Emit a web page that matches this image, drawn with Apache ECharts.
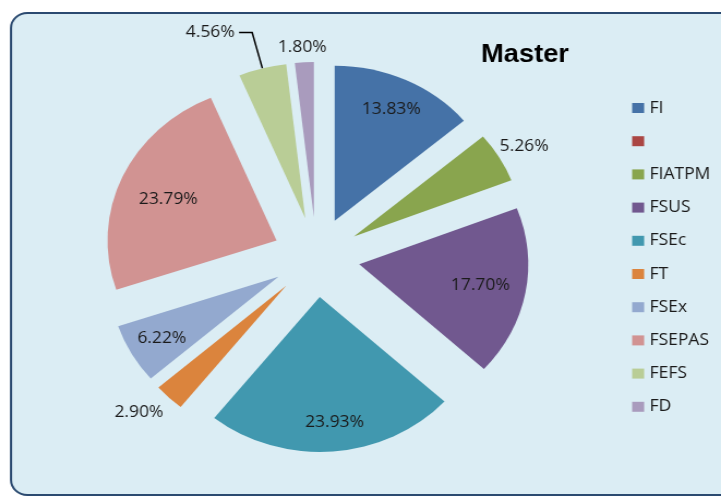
<!DOCTYPE html>
<html>
<head>
<meta charset="utf-8">
<script src="https://cdn.jsdelivr.net/npm/echarts@6/dist/echarts.min.js"></script>
<style>
html,body{margin:0;padding:0;background:#ffffff;overflow:hidden;width:721px;height:496px;}
/* the reference picture is horizontally stretched: draw at 661px wide and stretch to 721px */
#chart{width:661px;height:496px;transform:scaleX(1.0908);transform-origin:0 0;}
</style>
</head>
<body>
<div id="chart"></div>
<script>
// ---- data ----
const categories = ['FI', ' ', 'FIATPM', 'FSUS', 'FSEc', 'FT', 'FSEx', 'FSEPAS', 'FEFS', 'FD'];
const shares = [13.83, 0, 5.26, 17.70, 23.93, 2.90, 6.22, 23.79, 4.56, 1.80];
const colors = ['#4572a7', '#aa4643', '#89a54e', '#71588f', '#4198af', '#db843d', '#93a9cf', '#d19392', '#b9cd96', '#a99bbd'];
// where each percentage label sits
const labelPlace = ['inside', 'none', 'outside', 'inside', 'inside', 'outside', 'inside', 'inside', 'outside', 'outside'];
const titleText = 'Master';

// ---- style constants ----
const CENTER = [290, 257];
const R = 155;
const OFFSET = 40;
const FONT = '"Open Sans", "DejaVu Sans", sans-serif';
const outsideStyle = {
  2: { length: 22, length2: 0, show: false, dist: 4, align: 'center' },
  5: { length: 21, length2: 0, show: false, dist: 13, align: 'center' },
  8: { length: 37, length2: 12, show: true, dist: 4, align: null },
  9: { length: 15, length2: 0, show: false, dist: 1, align: 'center' }
};
// small nudges of the inside labels (style only)
const insideNudge = { 3: [-10, -2], 4: [4, 3], 7: [13, 10] };

const fmt = p => p.value.toFixed(2) + '%';

const mainData = categories.map((name, i) => {
  const item = { name, value: shares[i], selected: true, itemStyle: { color: colors[i] } };
  if (labelPlace[i] === 'outside') {
    const l = outsideStyle[i];
    item.label = { show: true, position: 'outside', distanceToLabelLine: l.dist };
    item.labelLine = { show: l.show, length: l.length, length2: l.length2, smooth: false,
      lineStyle: { color: '#000000', width: 1.5 } };
  } else {
    item.label = { show: false };
    item.labelLine = { show: false };
  }
  return item;
});

const labelData = categories.map((name, i) => ({
  name, value: shares[i], selected: true,
  itemStyle: { color: 'rgba(0,0,0,0)' },
  label: { show: labelPlace[i] === 'inside' }
}));

const chart = echarts.init(document.getElementById('chart'), null, { renderer: 'canvas' });
chart.setOption({
  animation: false,
  backgroundColor: '#ffffff',
  graphic: [{
    type: 'rect', z: -10, silent: true,
    shape: { x: 10.1, y: 13, width: 760, height: 482, r: 15 },
    style: { fill: '#dbedf4', stroke: '#2b4a70', lineWidth: 2 }
  }],
  title: {
    text: titleText, left: 441, top: 43, padding: 0,
    textStyle: { fontFamily: '"Liberation Sans", Arial, sans-serif', fontSize: 25, fontWeight: 'bold', color: '#000000' }
  },
  legend: {
    orient: 'vertical', left: 579.5, top: 98, padding: 0,
    icon: 'rect', itemWidth: 11, itemHeight: 10, itemGap: 13.2,
    selectedMode: false,
    data: categories,
    textStyle: { fontFamily: FONT, fontSize: 16, color: '#1a1a1a', lineHeight: 20 }
  },
  series: [{
    type: 'pie',
    center: CENTER,
    radius: R,
    startAngle: 90,
    clockwise: true,
    selectedMode: 'multiple',
    selectedOffset: OFFSET,
    avoidLabelOverlap: false,
    minShowLabelAngle: 0,
    emphasis: { disabled: true },
    label: { formatter: fmt, fontFamily: FONT, fontSize: 16, color: '#1a1a1a' },
    labelLayout: p => {
      const s = outsideStyle[p.dataIndex];
      return s && s.align ? { align: s.align } : {};
    },
    data: mainData
  }, {
    type: 'pie',
    center: CENTER,
    radius: R * 1.55,
    startAngle: 90,
    clockwise: true,
    silent: true,
    selectedMode: 'multiple',
    selectedOffset: OFFSET,
    avoidLabelOverlap: false,
    emphasis: { disabled: true },
    tooltip: { show: false },
    label: { position: 'inside', formatter: fmt, fontFamily: FONT, fontSize: 16, color: '#1a1a1a' },
    labelLine: { show: false },
    labelLayout: p => {
      const n = insideNudge[p.dataIndex];
      return n ? { dx: n[0], dy: n[1] } : {};
    },
    data: labelData
  }]
});
</script>
</body>
</html>
